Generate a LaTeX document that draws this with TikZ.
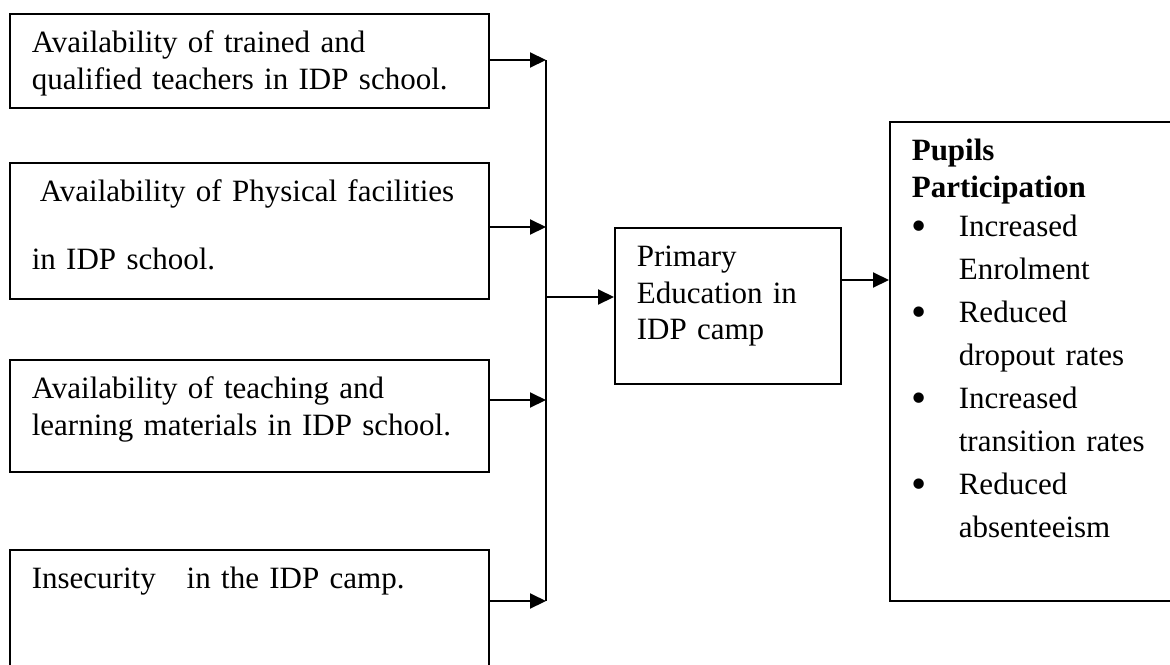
\documentclass[tikz,border=0pt]{standalone}
\usepackage{fontspec}
\setmainfont{Liberation Serif}
\usetikzlibrary{arrows.meta}
\newcommand{\bul}{\makebox[23.5pt][l]{\raisebox{-1.8pt}{\scalebox{1.4}{\textbullet}}}}
\newcommand{\ind}{\hspace*{23.5pt}}

\begin{document}
\begin{tikzpicture}[x=0.5pt,y=-0.5pt,
        >={Triangle[length=8pt,width=7.5pt]},
        box/.style={draw,line width=0.8pt,anchor=north west,align=left,
            inner xsep=11pt,inner ysep=8.5pt,text height=11pt,
            font=\fontsize{15.5}{18.2}\selectfont},
        link/.style={->,line width=1pt}]
        \useasboundingbox (0,0) rectangle (1170,664);
        \clip (0,0) rectangle (1170,664);

        \node[box,text width=217.5pt,text depth=19pt] (trained) at (9,13) {Availability of trained and\\qualified teachers in IDP school.};
        \node[box,text width=217.5pt,text depth=40pt] (physical) at (9,162) {\hspace*{4pt}Availability of Physical facilities\\[15.8pt]in IDP school.};
        \node[box,text width=217.5pt,text depth=28pt] (materials) at (9,359) {Availability of teaching and\\learning materials in IDP school.};
        \node[box,text width=217.5pt,text depth=52pt] (insecurity) at (9,549) {Insecurity\ \ \ in the IDP camp.};

        \node[box,text width=91pt,text depth=50pt] (primary) at (614,227) {Primary\\Education in\\IDP camp};
        \node[box,text width=200pt,text depth=211.5pt,font=\fontsize{15.5}{21.5}\selectfont] (pupils) at (889,121) {\textbf{Pupils}\\[-3pt]
            \textbf{Participation}\\[-2pt]
            \bul Increased\\ \ind Enrolment\\
            \bul Reduced\\ \ind dropout rates\\
            \bul Increased\\ \ind transition rates\\
            \bul Reduced\\ \ind absenteeism};

        % bus
        \coordinate (b1) at (546,60);
        \coordinate (b2) at (546,227);
        \coordinate (b0) at (546,297);
        \coordinate (b3) at (546,400);
        \coordinate (b4) at (546,601);
        \draw[line width=1pt] (b1) -- (b4);

        \draw[link] (trained.east |- b1) -- (b1);
        \draw[link] (physical.east |- b2) -- (b2);
        \draw[link] (materials.east |- b3) -- (b3);
        \draw[link] (insecurity.east |- b4) -- (b4);
        \draw[link] (b0) -- (b0 -| primary.west);
        \draw[link] (primary.east |- 0,280) -- (pupils.west |- 0,280);

\end{tikzpicture}
\end{document}
